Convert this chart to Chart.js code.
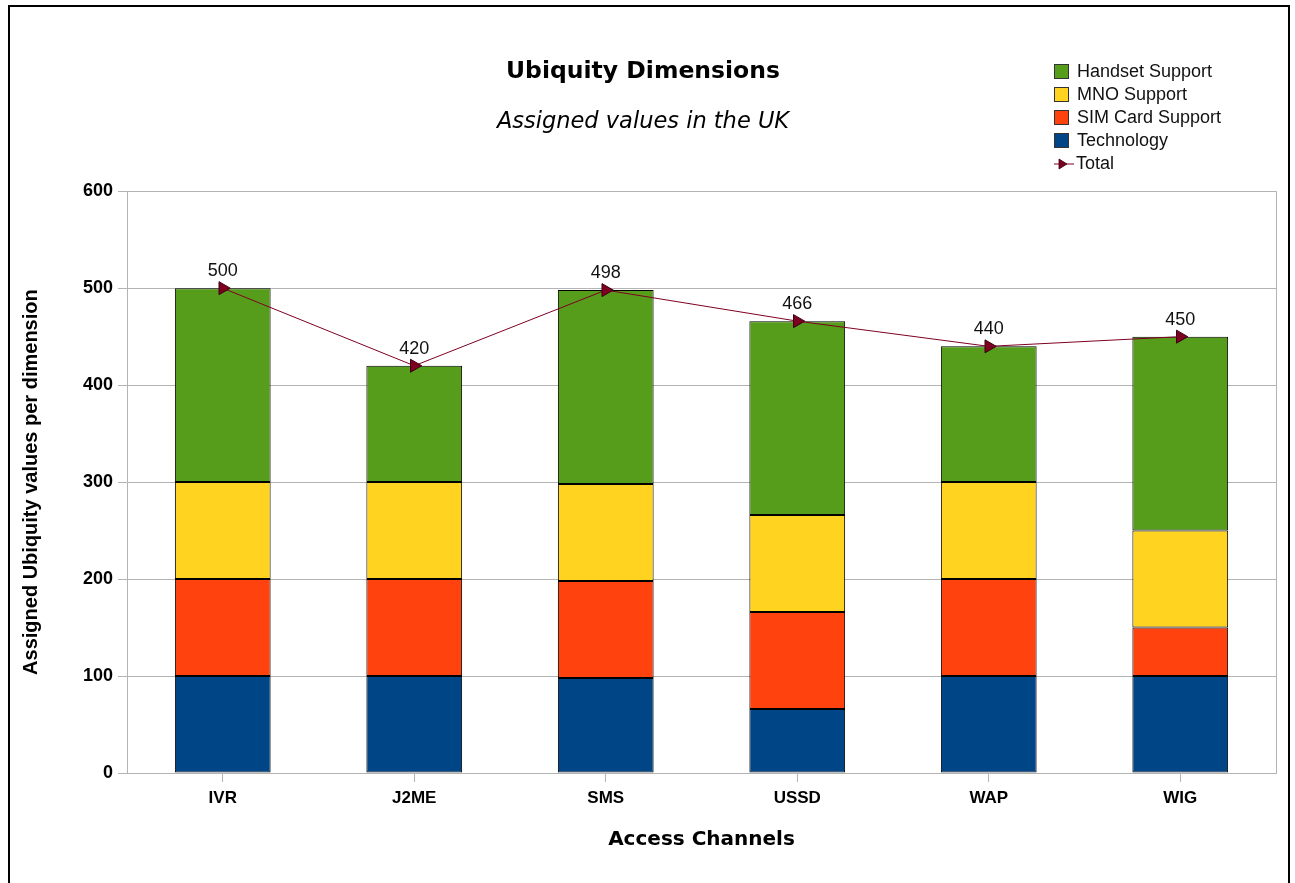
<!DOCTYPE html>
<html>
<head>
<meta charset="utf-8">
<title>Ubiquity Dimensions</title>
<script src="https://cdn.jsdelivr.net/npm/chart.js@4.4.1/dist/chart.umd.min.js"></script>
<style>
  html, body { margin: 0; padding: 0; background: #fff; overflow: hidden; }
  #wrap { position: relative; width: 1295px; height: 883px; }
  #frame {
    position: absolute; left: 8px; top: 5px; width: 1278px; height: 900px;
    border: 2px solid #000; border-bottom: none; pointer-events: none;
  }
  #legend {
    position: absolute; left: 1054px; top: 60px;
    font: 18px "Liberation Sans", Arial, sans-serif; color: #111;
  }
  .row { height: 23px; display: flex; align-items: center; }
  .swatch { width: 13px; height: 13px; border: 1px solid #333; margin-right: 8px; }
  .row svg { margin-right: 2px; }
</style>
</head>
<body>
<div id="wrap">
  <canvas id="ubiquity" width="1295" height="883"></canvas>
  <div id="legend"></div>
  <div id="frame"></div>
</div>
<script>
// access channels and assigned values per dimension
const channels   = ['IVR', 'J2ME', 'SMS', 'USSD', 'WAP', 'WIG'];
const technology = [100, 100, 98, 66, 100, 100];
const simCard    = [100, 100, 100, 100, 100, 50];
const mno        = [100, 100, 100, 100, 100, 100];
const handset    = [200, 120, 200, 200, 140, 200];
const totals     = [500, 420, 498, 466, 440, 450];
const yTicks     = [0, 100, 200, 300, 400, 500, 600];

const COLORS = {
  handset: '#579d1c',
  mno:     '#ffd320',
  sim:     '#ff420e',
  tech:    '#004586',
  total:   '#7e0021'
};

const GRID = '#b3b3b3';

function barSet(label, data, color){
  return {
    type: 'bar',
    label: label,
    data: data,
    backgroundColor: color,
    borderColor: '#000000',
    borderWidth: 1,
    borderSkipped: false,
    barPercentage: 0.5,
    categoryPercentage: 1.0,
    stack: 'dims',
    order: 1
  };
}

// value labels above the total line
const totalLabels = {
  id: 'totalLabels',
  afterDatasetsDraw(chart){
    const ctx = chart.ctx;
    const idx = chart.data.datasets.findIndex(d => d.type === 'line');
    const meta = chart.getDatasetMeta(idx);
    ctx.save();
    ctx.font = '18px "Liberation Sans", Arial, sans-serif';
    ctx.fillStyle = '#111';
    ctx.textAlign = 'center';
    ctx.textBaseline = 'middle';
    meta.data.forEach((pt, i) => {
      ctx.fillText(String(totals[i]), pt.x, pt.y - 17);
    });
    ctx.restore();
  }
};

// grey outline on the right edge of the plot
const plotEdge = {
  id: 'plotEdge',
  beforeDatasetsDraw(chart){
    const {ctx, chartArea} = chart;
    ctx.save();
    ctx.strokeStyle = GRID;
    ctx.lineWidth = 1;
    ctx.beginPath();
    ctx.moveTo(Math.round(chartArea.right) + 0.5, chartArea.top);
    ctx.lineTo(Math.round(chartArea.right) + 0.5, chartArea.bottom);
    ctx.stroke();
    ctx.restore();
  }
};

const ctx = document.getElementById('ubiquity').getContext('2d');
const chart = new Chart(ctx, {
  data: {
    labels: channels,
    datasets: [
      {
        type: 'line',
        label: 'Total',
        data: totals,
        borderColor: COLORS.total,
        borderWidth: 1,
        backgroundColor: COLORS.total,
        pointStyle: 'triangle',
        rotation: 90,
        pointRadius: 7.5,
        pointBorderColor: '#3a0010',
        pointBorderWidth: 1,
        pointBackgroundColor: COLORS.total,
        tension: 0,
        stack: 'total',
        order: 0
      },
      barSet('Technology', technology, COLORS.tech),
      barSet('SIM Card Support', simCard, COLORS.sim),
      barSet('MNO Support', mno, COLORS.mno),
      barSet('Handset Support', handset, COLORS.handset)
    ]
  },
  options: {
    responsive: false,
    animation: false,
    devicePixelRatio: 1,
    layout: { padding: { left: 10, right: 19, top: 0, bottom: 0 } },
    plugins: {
      legend: { display: false },
      tooltip: { enabled: false },
      title: {
        display: true,
        text: 'Ubiquity Dimensions',
        color: '#000',
        font: { family: '"DejaVu Sans", sans-serif', size: 23.5, weight: 'bold' },
        padding: { top: 58, bottom: 22 }
      },
      subtitle: {
        display: true,
        text: 'Assigned values in the UK',
        color: '#000',
        font: { family: '"DejaVu Sans", sans-serif', size: 22.5, style: 'italic' },
        padding: { top: 0, bottom: 56 }
      }
    },
    scales: {
      x: {
        stacked: true,
        grid: { drawOnChartArea: false, drawTicks: true, tickLength: 9, color: GRID, offset: false },
        border: { color: GRID },
        ticks: {
          color: '#000',
          padding: 6,
          font: { family: '"Liberation Sans", Arial, sans-serif', size: 17, weight: 'bold' }
        },
        title: {
          display: true,
          text: 'Access Channels',
          color: '#000',
          font: { family: '"DejaVu Sans", sans-serif', size: 20, weight: 'bold' },
          padding: { top: 0, bottom: 31 }
        },
        afterFit(scale){ scale.height = 110; }
      },
      y: {
        stacked: true,
        min: 0,
        max: 600,
        afterBuildTicks(scale){ scale.ticks = yTicks.map(v => ({ value: v })); },
        grid: { color: GRID, tickLength: 9 },
        border: { color: GRID },
        ticks: {
          color: '#000',
          padding: 5,
          font: { family: '"Liberation Sans", Arial, sans-serif', size: 18, weight: 'bold' }
        },
        title: {
          display: true,
          text: 'Assigned Ubiquity values per dimension',
          color: '#000',
          font: { family: '"Liberation Sans", Arial, sans-serif', size: 20, weight: 'bold' },
          padding: { top: 9, bottom: 0 }
        },
        afterFit(scale){ scale.width = 117; }
      }
    }
  },
  plugins: [totalLabels, plotEdge]
});

// legend drawn beside the title block
const legendItems = [
  { label: 'Handset Support', color: COLORS.handset },
  { label: 'MNO Support', color: COLORS.mno },
  { label: 'SIM Card Support', color: COLORS.sim },
  { label: 'Technology', color: COLORS.tech },
  { label: 'Total', color: COLORS.total, line: true }
];
const legendEl = document.getElementById('legend');
legendItems.forEach(item => {
  const row = document.createElement('div');
  row.className = 'row';
  if (item.line) {
    row.innerHTML =
      '<svg width="20" height="14" viewBox="0 0 20 14">' +
      '<line x1="0" y1="7" x2="20" y2="7" stroke="' + item.color + '" stroke-width="1"/>' +
      '<polygon points="5,2 13,7 5,12" fill="' + item.color + '" stroke="#3a0010" stroke-width="0.8"/>' +
      '</svg>';
  } else {
    row.innerHTML = '<span class="swatch" style="background:' + item.color + '"></span>';
  }
  const txt = document.createElement('span');
  txt.textContent = item.label;
  row.appendChild(txt);
  legendEl.appendChild(row);
});
</script>
</body>
</html>
